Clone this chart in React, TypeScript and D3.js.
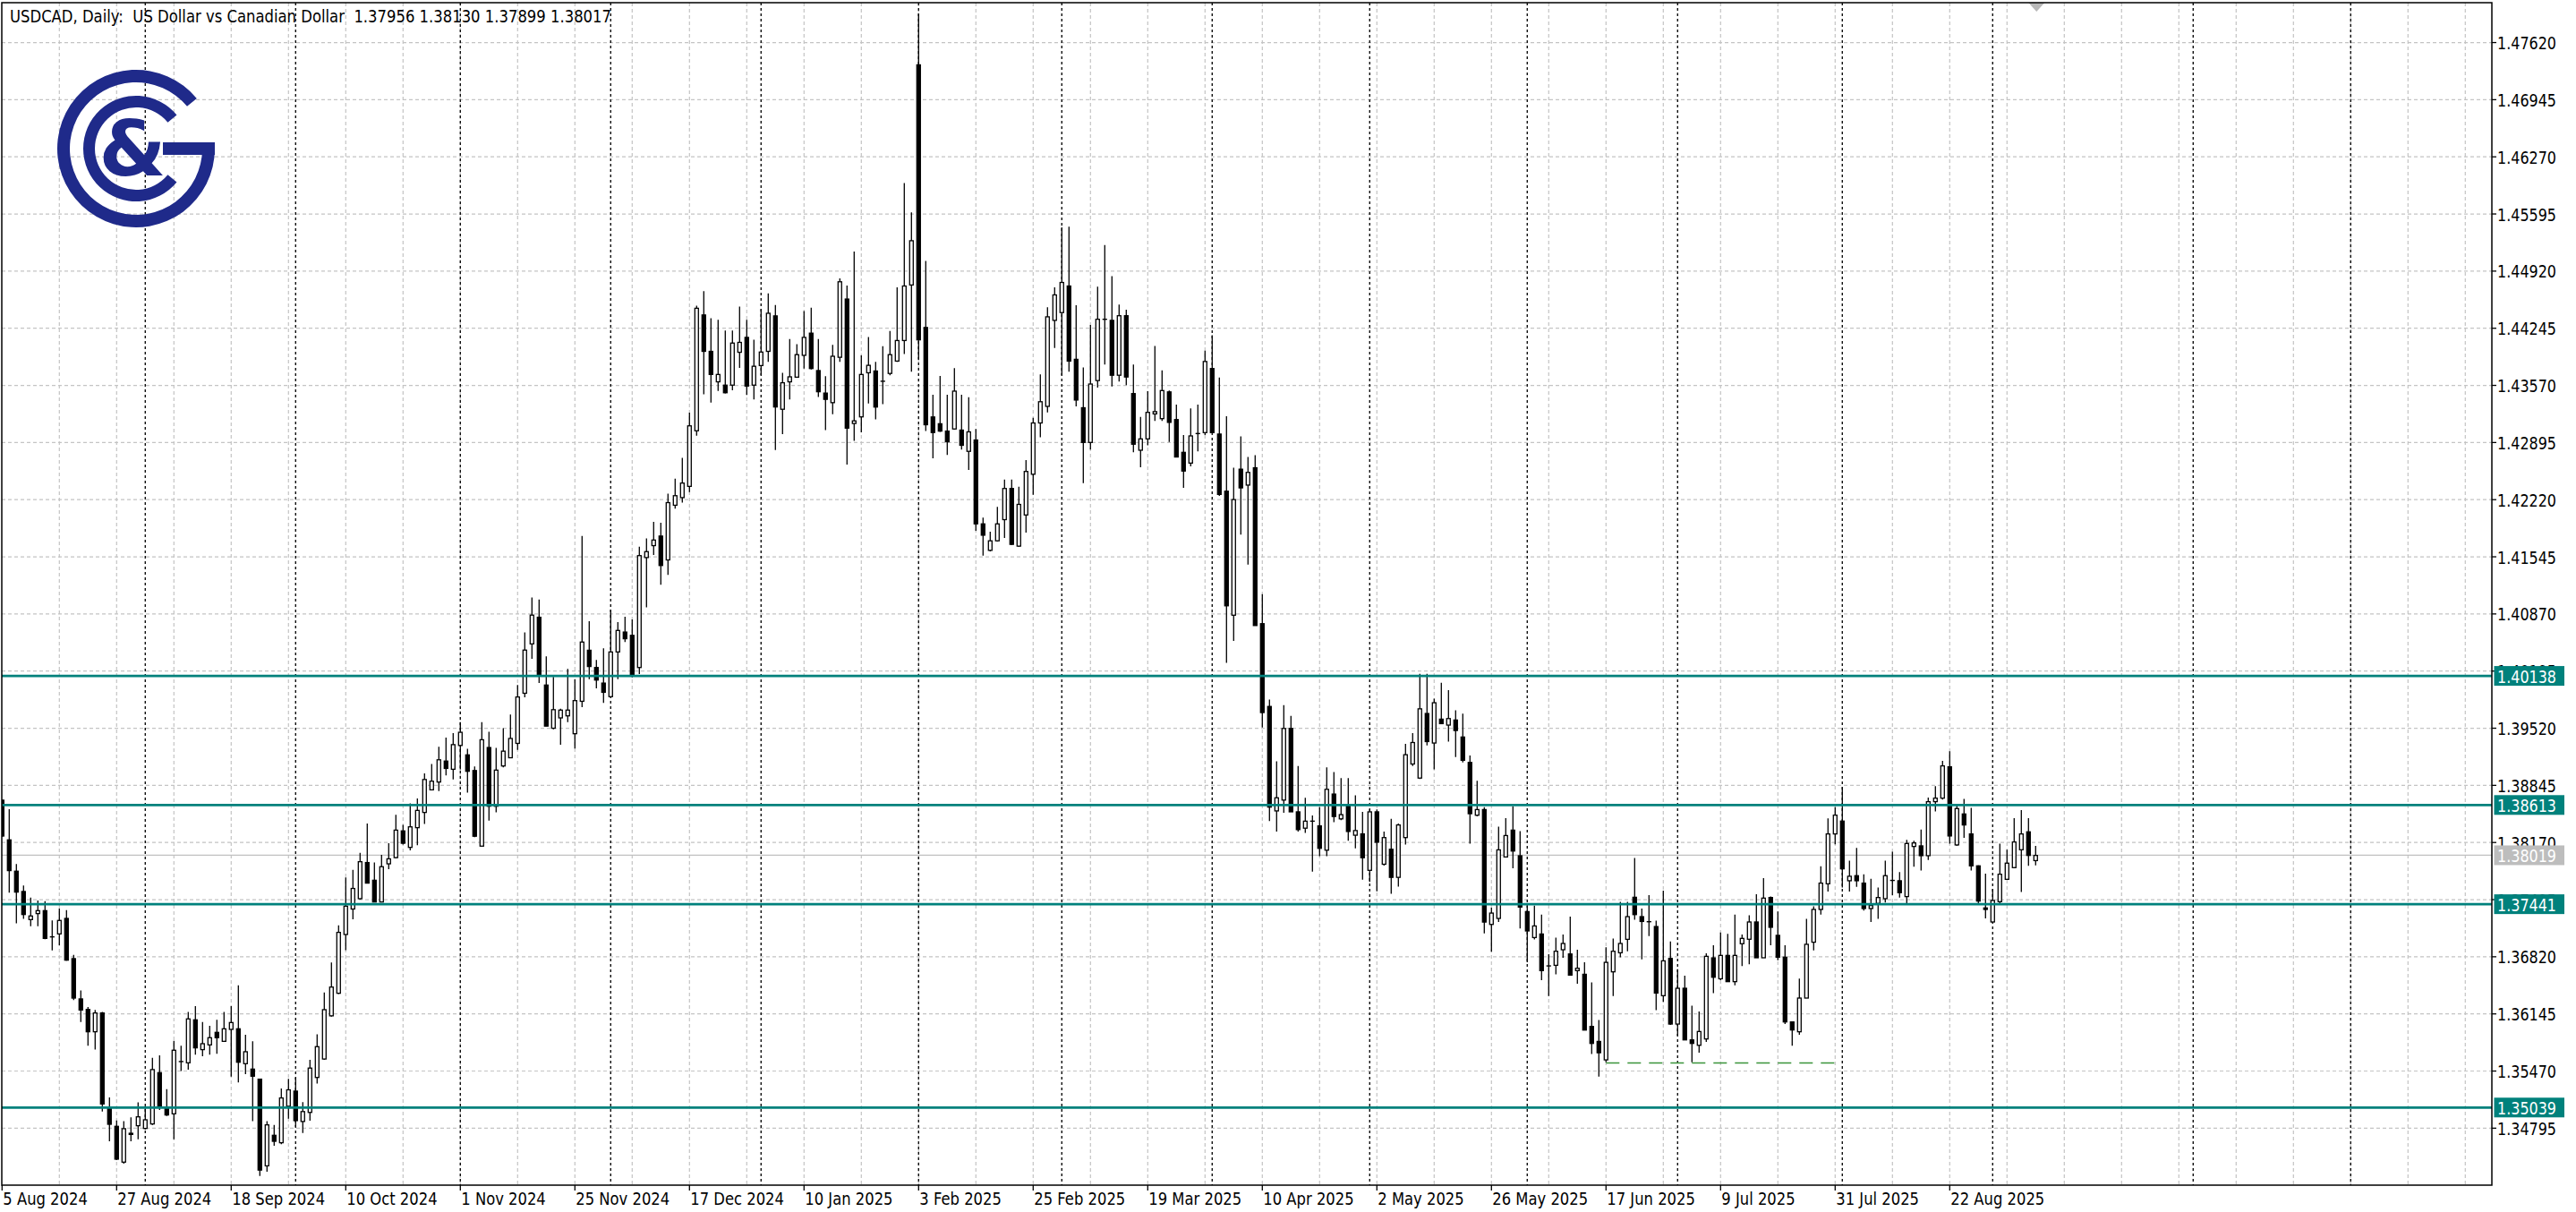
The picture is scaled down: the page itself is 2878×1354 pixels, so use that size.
import React from 'react';
import * as d3 from 'd3';

// ---- Data (daily USDCAD, bar 0 = 5 Aug 2024) ----
const opens = [
1.38670,1.38201,1.37831,1.37591,1.37259,1.37330,1.37365,1.37051,1.37090,1.37273,
1.36798,1.36322,1.36198,1.35934,1.36156,1.35028,1.34817,1.34394,1.34735,1.34824,
1.34792,1.34845,1.35451,1.35028,1.34965,1.35582,1.35567,1.36075,1.35723,1.35779,
1.35927,1.35821,1.35962,1.35969,1.35557,1.35493,1.35374,1.34350,1.34711,1.34623,
1.35054,1.35233,1.34874,1.34981,1.35394,1.35612,1.36122,1.36389,1.37083,1.37384,
1.37506,1.37933,1.37724,1.37467,1.37918,1.37991,1.38307,1.38112,1.38345,1.38525,
1.38792,1.38884,1.39132,1.39035,1.39316,1.39205,1.39020,1.38127,1.39292,1.38598,
1.39074,1.39171,1.39341,1.39933,1.40516,1.40831,1.40030,1.39520,1.39642,1.39666,
1.39455,1.39838,1.40441,1.40237,1.40053,1.39893,1.40421,1.40656,1.40617,1.40237,
1.41536,1.41677,1.41790,1.41508,1.42154,1.42244,1.42377,1.43034,1.44402,1.43972,
1.43612,1.43573,1.43573,1.43961,1.44137,1.43573,1.43804,1.43972,1.44391,1.43288,
1.43612,1.43667,1.43925,1.44187,1.43745,1.43479,1.43366,1.43902,1.44590,1.43120,
1.43198,1.43719,1.43740,1.43619,1.43711,1.43857,1.44100,1.44756,1.47357,1.44254,
1.43197,1.43117,1.43030,1.43055,1.43042,1.42791,1.42925,1.41934,1.41621,1.41734,
1.41984,1.42352,1.41671,1.42039,1.42520,1.43126,1.43322,1.44338,1.44430,1.44744,
1.43878,1.43306,1.42896,1.43627,1.44351,1.44338,1.43690,1.44393,1.43473,1.42804,
1.42938,1.43233,1.43177,1.43493,1.43166,1.42779,1.42652,1.42995,1.43012,1.43769,
1.42995,1.42320,1.40855,1.42580,1.42392,1.42597,1.40755,1.39777,1.38543,1.38671,
1.39517,1.38532,1.38339,1.38422,1.38366,1.38079,1.38742,1.38449,1.38599,1.38256,
1.38272,1.37841,1.38532,1.37913,1.38090,1.37758,1.38228,1.39097,1.38931,1.39694,
1.39345,1.39627,1.39557,1.39617,1.39416,1.39116,1.38492,1.38559,1.37202,1.37273,
1.37999,1.38316,1.38013,1.37354,1.37047,1.37089,1.36709,1.36719,1.36903,1.36853,
1.36656,1.36613,1.35997,1.35820,1.35602,1.36642,1.36867,1.37026,1.37523,1.37294,
1.37234,1.37177,1.36360,1.36800,1.36025,1.36448,1.35838,1.35774,1.35849,1.36807,
1.36560,1.36836,1.36526,1.36974,1.37027,1.37231,1.36808,1.37520,1.37073,1.36815,
1.36050,1.35934,1.36332,1.36992,1.37379,1.37682,1.38271,1.38423,1.37718,1.37778,
1.37690,1.37390,1.37450,1.37506,1.37718,1.37718,1.37531,1.38123,1.38130,1.38014,
1.38652,1.38694,1.39064,1.38141,1.38507,1.38271,1.37894,1.37397,1.37231,1.37471,
1.37735,1.37873,1.38084,1.38296,1.37956];
const highs = [
1.38677,1.38564,1.37915,1.37661,1.37520,1.37485,1.37478,1.37249,1.37390,1.37372,
1.36843,1.36421,1.36227,1.36191,1.36167,1.35159,1.34887,1.34877,1.34922,1.35099,
1.35028,1.35627,1.35656,1.35257,1.35828,1.35768,1.36167,1.36237,1.36050,1.36004,
1.36075,1.36167,1.36237,1.36484,1.35899,1.35821,1.35380,1.34877,1.34834,1.35264,
1.35379,1.35394,1.35102,1.35602,1.35903,1.36399,1.36753,1.37190,1.37758,1.37846,
1.38049,1.38394,1.37933,1.38025,1.38161,1.38496,1.38379,1.38632,1.38690,1.38986,
1.39098,1.39302,1.39409,1.39462,1.39593,1.39278,1.39069,1.39593,1.39477,1.39287,
1.39520,1.39681,1.40030,1.40652,1.41064,1.41040,1.40370,1.40127,1.39749,1.40220,
1.40100,1.41790,1.40785,1.40327,1.40464,1.40922,1.40773,1.40836,1.40804,1.41665,
1.41763,1.41958,1.41946,1.42291,1.42467,1.42713,1.43249,1.44512,1.44684,1.44363,
1.44344,1.44219,1.44219,1.44500,1.44344,1.44109,1.44473,1.44657,1.44520,1.43718,
1.44117,1.44058,1.44449,1.44489,1.44117,1.43679,1.44050,1.44833,1.44750,1.45150,
1.43925,1.44142,1.43849,1.44033,1.44213,1.44727,1.45960,1.45613,1.47963,1.45041,
1.43460,1.43682,1.43460,1.43774,1.43460,1.43431,1.43055,1.42009,1.41842,1.42135,
1.42457,1.42457,1.42373,1.42687,1.43188,1.43699,1.44493,1.44727,1.45438,1.45446,
1.44518,1.43782,1.44284,1.44735,1.45229,1.44861,1.44526,1.44464,1.43816,1.43197,
1.43502,1.44035,1.43747,1.43509,1.43343,1.42984,1.43299,1.43343,1.43979,1.44162,
1.43664,1.43205,1.42597,1.42967,1.42724,1.42746,1.41104,1.39860,1.39130,1.39793,
1.39666,1.39074,1.38698,1.38488,1.38588,1.39058,1.39003,1.38930,1.38930,1.38726,
1.38532,1.38560,1.38560,1.38300,1.38449,1.38394,1.39334,1.39462,1.40164,1.40164,
1.39870,1.40057,1.39969,1.39733,1.39691,1.39197,1.38898,1.38587,1.37399,1.38358,
1.38457,1.38598,1.38305,1.37424,1.37424,1.37318,1.36850,1.37047,1.37082,1.37294,
1.36903,1.36754,1.36518,1.36074,1.36931,1.37036,1.37470,1.37470,1.37988,1.37389,
1.37548,1.37248,1.37600,1.37001,1.36673,1.36596,1.36243,1.36173,1.36860,1.36955,
1.37107,1.37090,1.37319,1.37083,1.37309,1.37559,1.37749,1.37531,1.37355,1.36956,
1.36057,1.36562,1.37267,1.37415,1.37890,1.38454,1.38588,1.38825,1.37954,1.38105,
1.37795,1.37742,1.37637,1.37954,1.38060,1.37820,1.38201,1.38190,1.38324,1.38701,
1.38835,1.39135,1.39248,1.38624,1.38684,1.38578,1.37901,1.37802,1.37619,1.38155,
1.38084,1.38458,1.38553,1.38458,1.38130];
const lows = [
1.38236,1.37577,1.37214,1.37267,1.37182,1.37182,1.37027,1.36896,1.36956,1.36773,
1.36308,1.36050,1.35768,1.35723,1.34993,1.34640,1.34418,1.34376,1.34640,1.34665,
1.34781,1.34834,1.35011,1.34940,1.34665,1.35469,1.35487,1.35663,1.35645,1.35663,
1.35673,1.35814,1.35405,1.35335,1.35433,1.34877,1.34230,1.34280,1.34587,1.34605,
1.34908,1.34811,1.34738,1.34884,1.35321,1.35602,1.36112,1.36379,1.36899,1.37263,
1.37496,1.37690,1.37467,1.37467,1.37855,1.37981,1.38146,1.38078,1.38137,1.38389,
1.38792,1.38778,1.38962,1.38914,1.39035,1.38758,1.38234,1.38127,1.38428,1.38525,
1.39059,1.39171,1.39263,1.39884,1.40341,1.40054,1.39545,1.39506,1.39326,1.39593,
1.39279,1.39768,1.40100,1.39991,1.39819,1.39885,1.40100,1.40538,1.40120,1.40159,
1.40949,1.41567,1.41215,1.41332,1.42115,1.42185,1.42310,1.42975,1.43464,1.43366,
1.43503,1.43476,1.43511,1.43777,1.43456,1.43405,1.43691,1.43847,1.42807,1.42995,
1.43405,1.43659,1.43769,1.43757,1.43433,1.43041,1.43229,1.43847,1.42635,1.42916,
1.43014,1.43356,1.43168,1.43348,1.43690,1.43849,1.43941,1.43732,1.43878,1.43030,
1.42708,1.43021,1.42749,1.43046,1.42812,1.42570,1.41851,1.41558,1.41608,1.41725,
1.41767,1.41683,1.41662,1.41830,1.42277,1.42958,1.43251,1.44012,1.43690,1.43732,
1.43322,1.42415,1.42812,1.43544,1.43816,1.43556,1.43615,1.43573,1.42779,1.42603,
1.42862,1.43150,1.43150,1.42901,1.42724,1.42359,1.42613,1.42790,1.42984,1.43012,
1.42265,1.40291,1.40551,1.41806,1.41452,1.40733,1.39528,1.38422,1.38300,1.38521,
1.38532,1.38300,1.38284,1.37825,1.38007,1.38007,1.38411,1.38433,1.38190,1.38101,
1.37731,1.37703,1.37592,1.37896,1.37565,1.37648,1.38145,1.39074,1.38920,1.39318,
1.39035,1.39574,1.39363,1.39180,1.39116,1.38157,1.38478,1.37096,1.36878,1.37230,
1.37999,1.37865,1.37153,1.36754,1.37026,1.36543,1.36356,1.36613,1.36807,1.36603,
1.36501,1.35954,1.35672,1.35404,1.35574,1.36356,1.36814,1.36885,1.37258,1.36790,
1.37064,1.36190,1.36286,1.36014,1.35884,1.35838,1.35574,1.35686,1.35813,1.36391,
1.36543,1.36526,1.36484,1.36710,1.36731,1.36808,1.36808,1.36956,1.36780,1.36026,
1.35768,1.35899,1.36332,1.36896,1.37319,1.37591,1.38148,1.37637,1.37591,1.37647,
1.37365,1.37231,1.37267,1.37460,1.37549,1.37520,1.37450,1.37884,1.37838,1.37964,
1.38536,1.38677,1.38155,1.38130,1.38225,1.37838,1.37450,1.37274,1.37224,1.37450,
1.37732,1.37866,1.37584,1.37894,1.37899];
const closes = [
1.38246,1.37838,1.37584,1.37319,1.37302,1.37365,1.37037,1.37055,1.37249,1.36780,
1.36332,1.36191,1.35934,1.36156,1.35081,1.34841,1.34429,1.34789,1.34721,1.34929,
1.34894,1.35487,1.35053,1.34951,1.35716,1.35578,1.36086,1.35744,1.35793,1.35864,
1.35864,1.35969,1.36043,1.35574,1.35698,1.35409,1.34300,1.34834,1.34640,1.35152,
1.35248,1.34884,1.34991,1.35505,1.35758,1.36195,1.36462,1.37108,1.37418,1.37627,
1.37943,1.37690,1.37467,1.37884,1.37977,1.38316,1.38161,1.38355,1.38549,1.38914,
1.38894,1.39147,1.39045,1.39326,1.39472,1.39011,1.38244,1.39384,1.38598,1.39025,
1.39249,1.39399,1.39889,1.40443,1.40856,1.40152,1.39545,1.39739,1.39734,1.39734,
1.39846,1.40538,1.40249,1.40089,1.39944,1.40421,1.40675,1.40577,1.40147,1.41559,
1.41606,1.41743,1.41442,1.42185,1.42267,1.42416,1.43092,1.44481,1.43972,1.43699,
1.43699,1.43483,1.44070,1.44078,1.43562,1.43796,1.43964,1.44422,1.43315,1.43601,
1.43671,1.43933,1.44137,1.43769,1.43495,1.43405,1.43914,1.44794,1.43065,1.43151,
1.43699,1.43807,1.43314,1.43615,1.43933,1.44100,1.44744,1.45279,1.44108,1.43105,
1.43013,1.43030,1.42904,1.43502,1.42862,1.43021,1.41934,1.41800,1.41734,1.41934,
1.42352,1.41692,1.42164,1.42553,1.43126,1.43377,1.44380,1.44639,1.44786,1.43857,
1.43397,1.42896,1.43586,1.44351,1.44347,1.43690,1.44393,1.43669,1.42875,1.42938,
1.43251,1.43260,1.43509,1.43133,1.42724,1.42558,1.42973,1.43001,1.43852,1.43012,
1.42282,1.40966,1.42221,1.42359,1.42542,1.40733,1.39705,1.38588,1.38698,1.39517,
1.38532,1.38322,1.38422,1.38416,1.38101,1.38798,1.38477,1.38499,1.38300,1.38311,
1.37990,1.38532,1.38173,1.38228,1.37758,1.38377,1.39207,1.39351,1.39749,1.39362,
1.39821,1.39574,1.39634,1.39493,1.39141,1.38510,1.38559,1.37230,1.37336,1.38083,
1.38252,1.38069,1.37407,1.37125,1.37184,1.36656,1.36712,1.36885,1.36977,1.36603,
1.36684,1.35954,1.35796,1.35686,1.36754,1.36885,1.36977,1.37294,1.37318,1.37237,
1.37230,1.36391,1.36772,1.36025,1.36448,1.35838,1.35796,1.35937,1.36825,1.36578,
1.36836,1.36526,1.36836,1.37037,1.37231,1.36808,1.37513,1.37168,1.36815,1.36050,
1.35955,1.36332,1.36967,1.37379,1.37690,1.38271,1.38493,1.37859,1.37771,1.37718,
1.37390,1.37425,1.37520,1.37778,1.37722,1.37577,1.38158,1.38165,1.38014,1.38652,
1.38694,1.39075,1.38247,1.38571,1.38377,1.37894,1.37478,1.37379,1.37485,1.37795,
1.37926,1.38176,1.38271,1.38017,1.38017];

const dateLabels = ['5 Aug 2024','27 Aug 2024','18 Sep 2024','10 Oct 2024','1 Nov 2024','25 Nov 2024',
  '17 Dec 2024','10 Jan 2025','3 Feb 2025','25 Feb 2025','19 Mar 2025','10 Apr 2025','2 May 2025',
  '26 May 2025','17 Jun 2025','9 Jul 2025','31 Jul 2025','22 Aug 2025'];
const dateLabelBars = [0,16,32,48,64,80,96,112,128,144,160,176,192,208,224,240,256,272];
const priceTicks = [1.47620,1.46945,1.46270,1.45595,1.44920,1.44245,1.43570,1.42895,1.42220,1.41545,
  1.40870,1.40195,1.39520,1.38845,1.38170,1.37495,1.36820,1.36145,1.35470,1.34795];
const levels = [1.40138,1.38613,1.37441,1.35039];
const bidPrice = 1.38019;
const monthSeparatorBars = [20,41,64,85,106,128,148,169,191,213,234,257,278,306,328];
const trendFromBar = 224, trendToBar = 256, trendPrice = 1.35566;
const headerText = 'USDCAD, Daily:  US Dollar vs Canadian Dollar  1.37956 1.38130 1.37899 1.38017';

const W = 2878, H = 1354;
const L = 2, T = 3, R = 2784, B = 1324;
const FONT = "'DejaVu Sans', Verdana, sans-serif";
const TEAL = '#00817c';
const NAVY = '#1f2a8a';

export default function App() {
  const x = d3.scaleLinear().domain([0, 1]).range([2.3, 10.3]);
  const y = d3.scaleLinear().domain([1.34122, 1.48091]).range([B, T]);
  const gridBars = d3.range(8, 348, 8).filter((j) => x(j) < R - 2);
  const bars = opens.map((o, i) => ({ i, o, h: highs[i], l: lows[i], c: closes[i] }));

  const cx = 152, cy = 166;
  const outerG = d3.arc()({ innerRadius: 74, outerRadius: 88, startAngle: Math.PI / 2, endAngle: 2 * Math.PI + 0.28 * Math.PI } as any) as string;
  const innerC = d3.arc()({ innerRadius: 46, outerRadius: 59, startAngle: 0.72 * Math.PI, endAngle: 2.28 * Math.PI } as any) as string;

  return (
    <svg width={W} height={H} style={{ position: 'absolute', left: 0, top: 0, background: '#fff' }} fontFamily={FONT}>
      <defs>
        <clipPath id="plotClip"><rect x={L} y={T} width={R - L} height={B - T} /></clipPath>
      </defs>
      <rect x={0} y={0} width={W} height={H} fill="#fff" />
      <g clipPath="url(#plotClip)">
        {priceTicks.map((p) => (
          <line key={'hg' + p} x1={L} x2={R} y1={y(p)} y2={y(p)} stroke="#c4c4c4" strokeWidth={1.2} strokeDasharray="4 3" />
        ))}
        {gridBars.map((j) => (
          <line key={'vg' + j} x1={x(j)} x2={x(j)} y1={T} y2={B} stroke="#c4c4c4" strokeWidth={1.2} strokeDasharray="4 3" />
        ))}
        {monthSeparatorBars.map((j) => (
          <line key={'ms' + j} x1={x(j)} x2={x(j)} y1={T} y2={B} stroke="#111" strokeWidth={1.4} strokeDasharray="3 3" />
        ))}
        <line x1={L} x2={R} y1={y(bidPrice)} y2={y(bidPrice)} stroke="#c0c0c0" strokeWidth={1.3} />
        {bars.map((b) => {
          const xc = x(b.i);
          const up = b.c >= b.o;
          const top = y(Math.max(b.o, b.c));
          const bot = y(Math.min(b.o, b.c));
          const hgt = Math.max(bot - top, 0.01);
          return (
            <g key={'c' + b.i}>
              <line x1={xc} x2={xc} y1={y(b.h)} y2={y(b.l)} stroke="#000" strokeWidth={1.3} />
              {hgt < 1.2 ? (
                <line x1={xc - 2.6} x2={xc + 2.6} y1={top} y2={top} stroke="#000" strokeWidth={1.4} />
              ) : (
                <rect x={xc - 2} y={top} width={4} height={hgt} fill={up ? '#fff' : '#000'} stroke="#000" strokeWidth={1.3} />
              )}
            </g>
          );
        })}
        {levels.map((p) => (
          <line key={'lv' + p} x1={L} x2={R} y1={y(p)} y2={y(p)} stroke={TEAL} strokeWidth={2.8} />
        ))}
        <line x1={x(trendFromBar)} x2={x(trendToBar)} y1={y(trendPrice)} y2={y(trendPrice)} stroke="#3a943a" strokeWidth={1.4} strokeDasharray="15 9" />
        <text x={11} y={25} fontSize={20} fill="#000" textLength={672} lengthAdjust="spacingAndGlyphs" style={{ whiteSpace: 'pre' }}>{headerText}</text>
        <g>
          <path d={outerG} transform={`translate(${cx},${cy})`} fill={NAVY} />
          <path d={innerC} transform={`translate(${cx},${cy})`} fill={NAVY} />
          <rect x={cx + 30} y={cy - 7} width={58} height={14} fill={NAVY} />
          <text x={cx - 4} y={cy + 30} fontSize={86} fontWeight="bold" fill={NAVY} textAnchor="middle" fontFamily="'DejaVu Sans', sans-serif">&amp;</text>
        </g>
        <polygon points={`${x(284) - 8},${T} ${x(284) + 10},${T} ${x(284) + 1},${T + 10}`} fill="#b8b8b8" />
      </g>
      <rect x={L} y={T} width={R - L} height={B - T} fill="none" stroke="#000" strokeWidth={1.5} />
      {priceTicks.map((p) => (
        <g key={'pt' + p}>
          <line x1={R} x2={R + 5} y1={y(p)} y2={y(p)} stroke="#000" strokeWidth={1.3} />
          <text x={2790} y={y(p) + 7.5} fontSize={20} fill="#000" textLength={66} lengthAdjust="spacingAndGlyphs">{p.toFixed(5)}</text>
        </g>
      ))}
      {levels.map((p) => (
        <g key={'lb' + p}>
          <rect x={2786.5} y={y(p) - 11} width={78.5} height={22} fill={TEAL} />
          <text x={2790} y={y(p) + 7.5} fontSize={20} fill="#fff" textLength={66} lengthAdjust="spacingAndGlyphs">{p.toFixed(5)}</text>
        </g>
      ))}
      <g>
        <rect x={2786.5} y={y(bidPrice) - 11} width={78.5} height={22} fill="#bdbdbd" />
        <text x={2790} y={y(bidPrice) + 7.5} fontSize={20} fill="#fff" textLength={66} lengthAdjust="spacingAndGlyphs">{bidPrice.toFixed(5)}</text>
      </g>
      {dateLabels.map((s, k) => {
        const xx = x(dateLabelBars[k]);
        return (
          <g key={'dl' + k}>
            <line x1={xx} x2={xx} y1={B} y2={B + 6} stroke="#000" strokeWidth={1.3} />
            <text transform={`translate(${xx + 1},${1346}) scale(0.82,1)`} fontSize={20} fill="#000">{s}</text>
          </g>
        );
      })}
    </svg>
  );
}
